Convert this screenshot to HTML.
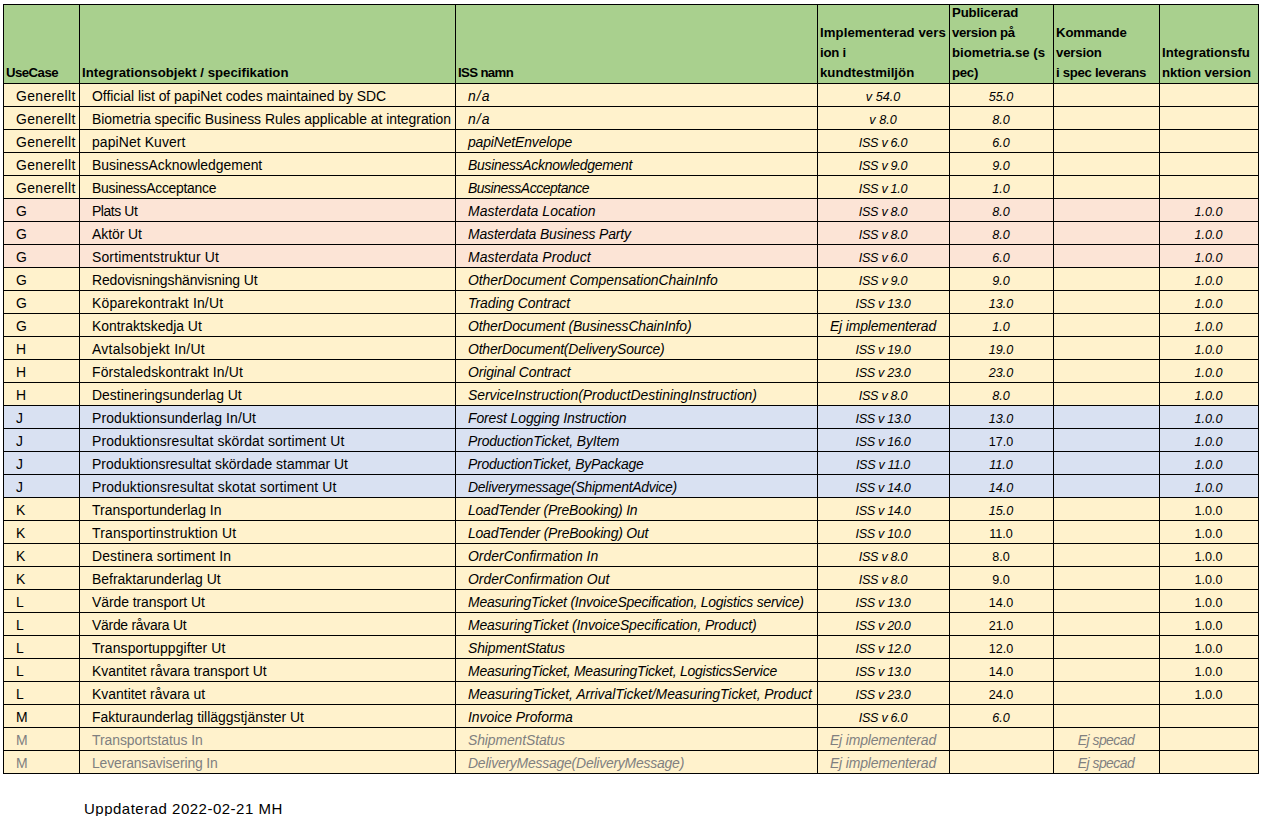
<!DOCTYPE html>
<html><head><meta charset="utf-8">
<style>
html,body{margin:0;padding:0;background:#fff;}
body{width:1263px;height:816px;overflow:hidden;position:relative;font-family:"Liberation Sans",sans-serif;color:#000;}
.bg{position:absolute;}
.vl{position:absolute;width:1px;background:#000;}
.hl{position:absolute;height:1px;background:#000;}
.t{position:absolute;white-space:nowrap;font-size:13.95px;line-height:22px;height:22px;}
.i{font-style:italic;}
.n{font-size:12.6px;margin-top:1px;}
.iss{font-size:12.6px;letter-spacing:-0.3px;margin-top:1px;}
.gen{letter-spacing:0.35px;}
.ej{letter-spacing:-0.15px;}
.c{text-align:center;}
.g{color:#808080;}
.h{position:absolute;white-space:nowrap;font-size:13.2px;font-weight:bold;line-height:20px;}
</style></head><body>

<div class="bg" style="left:3px;top:4px;width:1256px;height:79px;background:#a9d08e"></div>
<div class="bg" style="left:3px;top:83px;width:1256px;height:23px;background:#fff2cc"></div>
<div class="bg" style="left:3px;top:106px;width:1256px;height:23px;background:#fff2cc"></div>
<div class="bg" style="left:3px;top:129px;width:1256px;height:23px;background:#fff2cc"></div>
<div class="bg" style="left:3px;top:152px;width:1256px;height:23px;background:#fff2cc"></div>
<div class="bg" style="left:3px;top:175px;width:1256px;height:23px;background:#fff2cc"></div>
<div class="bg" style="left:3px;top:198px;width:1256px;height:23px;background:#fce4d6"></div>
<div class="bg" style="left:3px;top:221px;width:1256px;height:23px;background:#fce4d6"></div>
<div class="bg" style="left:3px;top:244px;width:1256px;height:23px;background:#fce4d6"></div>
<div class="bg" style="left:3px;top:267px;width:1256px;height:23px;background:#fff2cc"></div>
<div class="bg" style="left:3px;top:290px;width:1256px;height:23px;background:#fff2cc"></div>
<div class="bg" style="left:3px;top:313px;width:1256px;height:23px;background:#fff2cc"></div>
<div class="bg" style="left:3px;top:336px;width:1256px;height:23px;background:#fff2cc"></div>
<div class="bg" style="left:3px;top:359px;width:1256px;height:23px;background:#fff2cc"></div>
<div class="bg" style="left:3px;top:382px;width:1256px;height:23px;background:#fff2cc"></div>
<div class="bg" style="left:3px;top:405px;width:1256px;height:23px;background:#d9e1f2"></div>
<div class="bg" style="left:3px;top:428px;width:1256px;height:23px;background:#d9e1f2"></div>
<div class="bg" style="left:3px;top:451px;width:1256px;height:23px;background:#d9e1f2"></div>
<div class="bg" style="left:3px;top:474px;width:1256px;height:23px;background:#d9e1f2"></div>
<div class="bg" style="left:3px;top:497px;width:1256px;height:23px;background:#fff2cc"></div>
<div class="bg" style="left:3px;top:520px;width:1256px;height:23px;background:#fff2cc"></div>
<div class="bg" style="left:3px;top:543px;width:1256px;height:23px;background:#fff2cc"></div>
<div class="bg" style="left:3px;top:566px;width:1256px;height:23px;background:#fff2cc"></div>
<div class="bg" style="left:3px;top:589px;width:1256px;height:23px;background:#fff2cc"></div>
<div class="bg" style="left:3px;top:612px;width:1256px;height:23px;background:#fff2cc"></div>
<div class="bg" style="left:3px;top:635px;width:1256px;height:23px;background:#fff2cc"></div>
<div class="bg" style="left:3px;top:658px;width:1256px;height:23px;background:#fff2cc"></div>
<div class="bg" style="left:3px;top:681px;width:1256px;height:23px;background:#fff2cc"></div>
<div class="bg" style="left:3px;top:704px;width:1256px;height:23px;background:#fff2cc"></div>
<div class="bg" style="left:3px;top:727px;width:1256px;height:23px;background:#fff2cc"></div>
<div class="bg" style="left:3px;top:750px;width:1256px;height:23px;background:#fff2cc"></div>
<div class="t gen" style="left:16px;top:85px">Generellt</div>
<div class="t" style="left:92px;top:85px;letter-spacing:-0.034px">Official list of papiNet codes maintained by SDC</div>
<div class="t i" style="left:468px;top:85px;letter-spacing:1.100px">n/a</div>
<div class="t i c n" style="left:817px;width:132px;top:85px">v 54.0</div>
<div class="t c n i" style="left:949px;width:104px;top:85px">55.0</div>
<div class="t gen" style="left:16px;top:108px">Generellt</div>
<div class="t" style="left:92px;top:108px;letter-spacing:-0.021px">Biometria specific Business Rules applicable at integration</div>
<div class="t i" style="left:468px;top:108px;letter-spacing:1.100px">n/a</div>
<div class="t i c n" style="left:817px;width:132px;top:108px">v 8.0</div>
<div class="t c n i" style="left:949px;width:104px;top:108px">8.0</div>
<div class="t gen" style="left:16px;top:131px">Generellt</div>
<div class="t" style="left:92px;top:131px;letter-spacing:0.092px">papiNet Kuvert</div>
<div class="t i" style="left:468px;top:131px;letter-spacing:-0.136px">papiNetEnvelope</div>
<div class="t i c iss" style="left:817px;width:132px;top:131px">ISS v 6.0</div>
<div class="t c n i" style="left:949px;width:104px;top:131px">6.0</div>
<div class="t gen" style="left:16px;top:154px">Generellt</div>
<div class="t" style="left:92px;top:154px;letter-spacing:-0.009px">BusinessAcknowledgement</div>
<div class="t i" style="left:468px;top:154px;letter-spacing:-0.277px">BusinessAcknowledgement</div>
<div class="t i c iss" style="left:817px;width:132px;top:154px">ISS v 9.0</div>
<div class="t c n i" style="left:949px;width:104px;top:154px">9.0</div>
<div class="t gen" style="left:16px;top:177px">Generellt</div>
<div class="t" style="left:92px;top:177px;letter-spacing:-0.294px">BusinessAcceptance</div>
<div class="t i" style="left:468px;top:177px;letter-spacing:-0.465px">BusinessAcceptance</div>
<div class="t i c iss" style="left:817px;width:132px;top:177px">ISS v 1.0</div>
<div class="t c n i" style="left:949px;width:104px;top:177px">1.0</div>
<div class="t" style="left:16px;top:200px">G</div>
<div class="t" style="left:92px;top:200px;letter-spacing:-0.429px">Plats Ut</div>
<div class="t i" style="left:468px;top:200px;letter-spacing:0.067px">Masterdata Location</div>
<div class="t i c iss" style="left:817px;width:132px;top:200px">ISS v 8.0</div>
<div class="t c n i" style="left:949px;width:104px;top:200px">8.0</div>
<div class="t c n i" style="left:1159px;width:99px;top:200px">1.0.0</div>
<div class="t" style="left:16px;top:223px">G</div>
<div class="t" style="left:92px;top:223px;letter-spacing:-0.057px">Aktör Ut</div>
<div class="t i" style="left:468px;top:223px;letter-spacing:-0.150px">Masterdata Business Party</div>
<div class="t i c iss" style="left:817px;width:132px;top:223px">ISS v 8.0</div>
<div class="t c n i" style="left:949px;width:104px;top:223px">8.0</div>
<div class="t c n i" style="left:1159px;width:99px;top:223px">1.0.0</div>
<div class="t" style="left:16px;top:246px">G</div>
<div class="t" style="left:92px;top:246px;letter-spacing:0.158px">Sortimentstruktur Ut</div>
<div class="t i" style="left:468px;top:246px;letter-spacing:0.065px">Masterdata Product</div>
<div class="t i c iss" style="left:817px;width:132px;top:246px">ISS v 6.0</div>
<div class="t c n i" style="left:949px;width:104px;top:246px">6.0</div>
<div class="t c n i" style="left:1159px;width:99px;top:246px">1.0.0</div>
<div class="t" style="left:16px;top:269px">G</div>
<div class="t" style="left:92px;top:269px;letter-spacing:-0.108px">Redovisningshänvisning Ut</div>
<div class="t i" style="left:468px;top:269px;letter-spacing:-0.062px">OtherDocument CompensationChainInfo</div>
<div class="t i c iss" style="left:817px;width:132px;top:269px">ISS v 9.0</div>
<div class="t c n i" style="left:949px;width:104px;top:269px">9.0</div>
<div class="t c n i" style="left:1159px;width:99px;top:269px">1.0.0</div>
<div class="t" style="left:16px;top:292px">G</div>
<div class="t" style="left:92px;top:292px;letter-spacing:0.168px">Köparekontrakt In/Ut</div>
<div class="t i" style="left:468px;top:292px;letter-spacing:-0.040px">Trading Contract</div>
<div class="t i c iss" style="left:817px;width:132px;top:292px">ISS v 13.0</div>
<div class="t c n i" style="left:949px;width:104px;top:292px">13.0</div>
<div class="t c n i" style="left:1159px;width:99px;top:292px">1.0.0</div>
<div class="t" style="left:16px;top:315px">G</div>
<div class="t" style="left:92px;top:315px;letter-spacing:-0.013px">Kontraktskedja Ut</div>
<div class="t i" style="left:468px;top:315px;letter-spacing:-0.131px">OtherDocument (BusinessChainInfo)</div>
<div class="t i c ej" style="left:817px;width:132px;top:315px">Ej implementerad</div>
<div class="t c n i" style="left:949px;width:104px;top:315px">1.0</div>
<div class="t c n i" style="left:1159px;width:99px;top:315px">1.0.0</div>
<div class="t" style="left:16px;top:338px">H</div>
<div class="t" style="left:92px;top:338px;letter-spacing:0.259px">Avtalsobjekt In/Ut</div>
<div class="t i" style="left:468px;top:338px;letter-spacing:-0.193px">OtherDocument(DeliverySource)</div>
<div class="t i c iss" style="left:817px;width:132px;top:338px">ISS v 19.0</div>
<div class="t c n i" style="left:949px;width:104px;top:338px">19.0</div>
<div class="t c n i" style="left:1159px;width:99px;top:338px">1.0.0</div>
<div class="t" style="left:16px;top:361px">H</div>
<div class="t" style="left:92px;top:361px;letter-spacing:0.122px">Förstaledskontrakt In/Ut</div>
<div class="t i" style="left:468px;top:361px;letter-spacing:-0.119px">Original Contract</div>
<div class="t i c iss" style="left:817px;width:132px;top:361px">ISS v 23.0</div>
<div class="t c n i" style="left:949px;width:104px;top:361px">23.0</div>
<div class="t c n i" style="left:1159px;width:99px;top:361px">1.0.0</div>
<div class="t" style="left:16px;top:384px">H</div>
<div class="t" style="left:92px;top:384px;letter-spacing:0.009px">Destineringsunderlag Ut</div>
<div class="t i" style="left:468px;top:384px;letter-spacing:-0.033px">ServiceInstruction(ProductDestiningInstruction)</div>
<div class="t i c iss" style="left:817px;width:132px;top:384px">ISS v 8.0</div>
<div class="t c n i" style="left:949px;width:104px;top:384px">8.0</div>
<div class="t c n i" style="left:1159px;width:99px;top:384px">1.0.0</div>
<div class="t" style="left:16px;top:407px">J</div>
<div class="t" style="left:92px;top:407px;letter-spacing:0.117px">Produktionsunderlag In/Ut</div>
<div class="t i" style="left:468px;top:407px;letter-spacing:-0.108px">Forest Logging Instruction</div>
<div class="t i c iss" style="left:817px;width:132px;top:407px">ISS v 13.0</div>
<div class="t c n i" style="left:949px;width:104px;top:407px">13.0</div>
<div class="t c n i" style="left:1159px;width:99px;top:407px">1.0.0</div>
<div class="t" style="left:16px;top:430px">J</div>
<div class="t" style="left:92px;top:430px;letter-spacing:0.113px">Produktionsresultat skördat sortiment Ut</div>
<div class="t i" style="left:468px;top:430px;letter-spacing:-0.148px">ProductionTicket, ByItem</div>
<div class="t i c iss" style="left:817px;width:132px;top:430px">ISS v 16.0</div>
<div class="t c n" style="left:949px;width:104px;top:430px">17.0</div>
<div class="t c n i" style="left:1159px;width:99px;top:430px">1.0.0</div>
<div class="t" style="left:16px;top:453px">J</div>
<div class="t" style="left:92px;top:453px;letter-spacing:-0.011px">Produktionsresultat skördade stammar Ut</div>
<div class="t i" style="left:468px;top:453px;letter-spacing:-0.235px">ProductionTicket, ByPackage</div>
<div class="t i c iss" style="left:817px;width:132px;top:453px">ISS v 11.0</div>
<div class="t c n i" style="left:949px;width:104px;top:453px">11.0</div>
<div class="t c n i" style="left:1159px;width:99px;top:453px">1.0.0</div>
<div class="t" style="left:16px;top:476px">J</div>
<div class="t" style="left:92px;top:476px;letter-spacing:0.132px">Produktionsresultat skotat sortiment Ut</div>
<div class="t i" style="left:468px;top:476px;letter-spacing:-0.257px">Deliverymessage(ShipmentAdvice)</div>
<div class="t i c iss" style="left:817px;width:132px;top:476px">ISS v 14.0</div>
<div class="t c n i" style="left:949px;width:104px;top:476px">14.0</div>
<div class="t c n i" style="left:1159px;width:99px;top:476px">1.0.0</div>
<div class="t" style="left:16px;top:499px">K</div>
<div class="t" style="left:92px;top:499px;letter-spacing:0.032px">Transportunderlag In</div>
<div class="t i" style="left:468px;top:499px;letter-spacing:-0.200px">LoadTender (PreBooking) In</div>
<div class="t i c iss" style="left:817px;width:132px;top:499px">ISS v 14.0</div>
<div class="t c n i" style="left:949px;width:104px;top:499px">15.0</div>
<div class="t c n" style="left:1159px;width:99px;top:499px">1.0.0</div>
<div class="t" style="left:16px;top:522px">K</div>
<div class="t" style="left:92px;top:522px;letter-spacing:0.164px">Transportinstruktion Ut</div>
<div class="t i" style="left:468px;top:522px;letter-spacing:-0.192px">LoadTender (PreBooking) Out</div>
<div class="t i c iss" style="left:817px;width:132px;top:522px">ISS v 10.0</div>
<div class="t c n" style="left:949px;width:104px;top:522px">11.0</div>
<div class="t c n" style="left:1159px;width:99px;top:522px">1.0.0</div>
<div class="t" style="left:16px;top:545px">K</div>
<div class="t" style="left:92px;top:545px;letter-spacing:0.133px">Destinera sortiment In</div>
<div class="t i" style="left:468px;top:545px;letter-spacing:0.005px">OrderConfirmation In</div>
<div class="t i c iss" style="left:817px;width:132px;top:545px">ISS v 8.0</div>
<div class="t c n" style="left:949px;width:104px;top:545px">8.0</div>
<div class="t c n" style="left:1159px;width:99px;top:545px">1.0.0</div>
<div class="t" style="left:16px;top:568px">K</div>
<div class="t" style="left:92px;top:568px;letter-spacing:0.000px">Befraktarunderlag Ut</div>
<div class="t i" style="left:468px;top:568px;letter-spacing:0.020px">OrderConfirmation Out</div>
<div class="t i c iss" style="left:817px;width:132px;top:568px">ISS v 8.0</div>
<div class="t c n" style="left:949px;width:104px;top:568px">9.0</div>
<div class="t c n" style="left:1159px;width:99px;top:568px">1.0.0</div>
<div class="t" style="left:16px;top:591px">L</div>
<div class="t" style="left:92px;top:591px;letter-spacing:-0.059px">Värde transport Ut</div>
<div class="t i" style="left:468px;top:591px;letter-spacing:-0.225px">MeasuringTicket (InvoiceSpecification, Logistics service)</div>
<div class="t i c iss" style="left:817px;width:132px;top:591px">ISS v 13.0</div>
<div class="t c n" style="left:949px;width:104px;top:591px">14.0</div>
<div class="t c n" style="left:1159px;width:99px;top:591px">1.0.0</div>
<div class="t" style="left:16px;top:614px">L</div>
<div class="t" style="left:92px;top:614px;letter-spacing:-0.271px">Värde råvara Ut</div>
<div class="t i" style="left:468px;top:614px;letter-spacing:-0.120px">MeasuringTicket (InvoiceSpecification, Product)</div>
<div class="t i c iss" style="left:817px;width:132px;top:614px">ISS v 20.0</div>
<div class="t c n" style="left:949px;width:104px;top:614px">21.0</div>
<div class="t c n" style="left:1159px;width:99px;top:614px">1.0.0</div>
<div class="t" style="left:16px;top:637px">L</div>
<div class="t" style="left:92px;top:637px;letter-spacing:0.110px">Transportuppgifter Ut</div>
<div class="t i" style="left:468px;top:637px;letter-spacing:-0.115px">ShipmentStatus</div>
<div class="t i c iss" style="left:817px;width:132px;top:637px">ISS v 12.0</div>
<div class="t c n" style="left:949px;width:104px;top:637px">12.0</div>
<div class="t c n" style="left:1159px;width:99px;top:637px">1.0.0</div>
<div class="t" style="left:16px;top:660px">L</div>
<div class="t" style="left:92px;top:660px;letter-spacing:0.014px">Kvantitet råvara transport Ut</div>
<div class="t i" style="left:468px;top:660px;letter-spacing:-0.229px">MeasuringTicket, MeasuringTicket, LogisticsService</div>
<div class="t i c iss" style="left:817px;width:132px;top:660px">ISS v 13.0</div>
<div class="t c n" style="left:949px;width:104px;top:660px">14.0</div>
<div class="t c n" style="left:1159px;width:99px;top:660px">1.0.0</div>
<div class="t" style="left:16px;top:683px">L</div>
<div class="t" style="left:92px;top:683px;letter-spacing:0.000px">Kvantitet råvara ut</div>
<div class="t i" style="left:468px;top:683px;letter-spacing:-0.070px">MeasuringTicket, ArrivalTicket/MeasuringTicket, Product</div>
<div class="t i c iss" style="left:817px;width:132px;top:683px">ISS v 23.0</div>
<div class="t c n" style="left:949px;width:104px;top:683px">24.0</div>
<div class="t c n" style="left:1159px;width:99px;top:683px">1.0.0</div>
<div class="t" style="left:16px;top:706px">M</div>
<div class="t" style="left:92px;top:706px;letter-spacing:-0.012px">Fakturaunderlag tilläggstjänster Ut</div>
<div class="t i" style="left:468px;top:706px;letter-spacing:-0.033px">Invoice Proforma</div>
<div class="t i c iss" style="left:817px;width:132px;top:706px">ISS v 6.0</div>
<div class="t c n i" style="left:949px;width:104px;top:706px">6.0</div>
<div class="t g" style="left:16px;top:729px">M</div>
<div class="t g" style="left:92px;top:729px;letter-spacing:-0.059px">Transportstatus In</div>
<div class="t i g" style="left:468px;top:729px;letter-spacing:-0.115px">ShipmentStatus</div>
<div class="t i c g ej" style="left:817px;width:132px;top:729px">Ej implementerad</div>
<div class="t i c g" style="left:1053px;width:106px;top:729px;letter-spacing:-0.55px">Ej specad</div>
<div class="t g" style="left:16px;top:752px">M</div>
<div class="t g" style="left:92px;top:752px;letter-spacing:-0.147px">Leveransavisering In</div>
<div class="t i g" style="left:468px;top:752px;letter-spacing:-0.219px">DeliveryMessage(DeliveryMessage)</div>
<div class="t i c g ej" style="left:817px;width:132px;top:752px">Ej implementerad</div>
<div class="t i c g" style="left:1053px;width:106px;top:752px;letter-spacing:-0.55px">Ej specad</div>
<div class="h" style="left:6px;top:63px;letter-spacing:-0.533px">UseCase</div>
<div class="h" style="left:82px;top:63px;letter-spacing:0.018px">Integrationsobjekt / specifikation</div>
<div class="h" style="left:458px;top:63px;letter-spacing:-0.629px">ISS namn</div>
<div class="h" style="left:820px;top:23px;letter-spacing:0.071px">Implementerad vers</div>
<div class="h" style="left:820px;top:43px;letter-spacing:-0.250px">ion i</div>
<div class="h" style="left:820px;top:63px;letter-spacing:0.031px">kundtestmiljön</div>
<div class="h" style="left:952px;top:3px;letter-spacing:-0.133px">Publicerad</div>
<div class="h" style="left:952px;top:23px;letter-spacing:-0.311px">version på</div>
<div class="h" style="left:952px;top:43px;letter-spacing:0.000px">biometria.se (s</div>
<div class="h" style="left:952px;top:63px;letter-spacing:-0.267px">pec)</div>
<div class="h" style="left:1056px;top:23px;letter-spacing:-0.143px">Kommande</div>
<div class="h" style="left:1056px;top:43px;letter-spacing:-0.167px">version</div>
<div class="h" style="left:1056px;top:63px;letter-spacing:-0.300px">i spec leverans</div>
<div class="h" style="left:1162px;top:43px;letter-spacing:0.000px">Integrationsfu</div>
<div class="h" style="left:1162px;top:63px;letter-spacing:-0.092px">nktion version</div>
<div class="vl" style="left:3px;top:4px;height:770px"></div>
<div class="vl" style="left:79px;top:4px;height:770px"></div>
<div class="vl" style="left:455px;top:4px;height:770px"></div>
<div class="vl" style="left:817px;top:4px;height:770px"></div>
<div class="vl" style="left:949px;top:4px;height:770px"></div>
<div class="vl" style="left:1053px;top:4px;height:770px"></div>
<div class="vl" style="left:1159px;top:4px;height:770px"></div>
<div class="vl" style="left:1258px;top:4px;height:770px"></div>
<div class="hl" style="left:3px;top:4px;width:1256px"></div>
<div class="hl" style="left:3px;top:83px;width:1256px"></div>
<div class="hl" style="left:3px;top:106px;width:1256px"></div>
<div class="hl" style="left:3px;top:129px;width:1256px"></div>
<div class="hl" style="left:3px;top:152px;width:1256px"></div>
<div class="hl" style="left:3px;top:175px;width:1256px"></div>
<div class="hl" style="left:3px;top:198px;width:1256px"></div>
<div class="hl" style="left:3px;top:221px;width:1256px"></div>
<div class="hl" style="left:3px;top:244px;width:1256px"></div>
<div class="hl" style="left:3px;top:267px;width:1256px"></div>
<div class="hl" style="left:3px;top:290px;width:1256px"></div>
<div class="hl" style="left:3px;top:313px;width:1256px"></div>
<div class="hl" style="left:3px;top:336px;width:1256px"></div>
<div class="hl" style="left:3px;top:359px;width:1256px"></div>
<div class="hl" style="left:3px;top:382px;width:1256px"></div>
<div class="hl" style="left:3px;top:405px;width:1256px"></div>
<div class="hl" style="left:3px;top:428px;width:1256px"></div>
<div class="hl" style="left:3px;top:451px;width:1256px"></div>
<div class="hl" style="left:3px;top:474px;width:1256px"></div>
<div class="hl" style="left:3px;top:497px;width:1256px"></div>
<div class="hl" style="left:3px;top:520px;width:1256px"></div>
<div class="hl" style="left:3px;top:543px;width:1256px"></div>
<div class="hl" style="left:3px;top:566px;width:1256px"></div>
<div class="hl" style="left:3px;top:589px;width:1256px"></div>
<div class="hl" style="left:3px;top:612px;width:1256px"></div>
<div class="hl" style="left:3px;top:635px;width:1256px"></div>
<div class="hl" style="left:3px;top:658px;width:1256px"></div>
<div class="hl" style="left:3px;top:681px;width:1256px"></div>
<div class="hl" style="left:3px;top:704px;width:1256px"></div>
<div class="hl" style="left:3px;top:727px;width:1256px"></div>
<div class="hl" style="left:3px;top:750px;width:1256px"></div>
<div class="hl" style="left:3px;top:773px;width:1256px"></div>
<div style="position:absolute;left:84px;top:799px;font-size:15px;letter-spacing:0.5px;line-height:20px;white-space:nowrap">Uppdaterad 2022-02-21 MH</div>
</body></html>
